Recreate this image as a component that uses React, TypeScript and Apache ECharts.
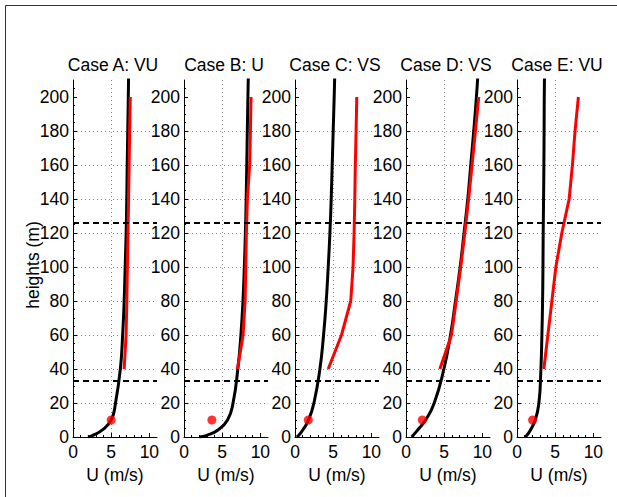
import React, { useEffect, useRef } from "react";
import * as echarts from "echarts";

// ---- data ----
const CASE_TITLES = ["Case A: VU", "Case B: U", "Case C: VS", "Case D: VS", "Case E: VU"];
const X_TICKS = [0, 5, 10];
const Y_TICKS = [0, 20, 40, 60, 80, 100, 120, 140, 160, 180, 200];

// heights (m) at which the black profile was read
const BLACK_HEIGHTS = [0, 1, 4, 10, 20, 40, 60, 80, 100, 120, 140, 160, 180, 200, 212];
const BLACK_A = [1.96, 2.6, 3.8, 5.0, 5.57, 6.2, 6.5, 6.7, 6.83, 6.96, 7.04, 7.1, 7.17, 7.24, 7.28];
const BLACK_B = [2.0, 3.0, 4.4, 5.7, 6.42, 7.05, 7.45, 7.72, 7.9, 8.04, 8.14, 8.22, 8.29, 8.37, 8.42];
const BLACK_C = [0.22, 0.5, 1.0, 1.78, 2.48, 3.26, 3.74, 4.09, 4.35, 4.57, 4.74, 4.87, 5.0, 5.13, 5.2];
const BLACK_D = [0.74, 0.95, 1.5, 2.57, 3.7, 4.96, 5.83, 6.48, 7.09, 7.6, 8.09, 8.48, 8.87, 9.22, 9.4];
const BLACK_E = [1.0, 1.3, 1.75, 2.39, 2.87, 3.13, 3.26, 3.35, 3.4, 3.43, 3.48, 3.52, 3.55, 3.57, 3.6];

// heights (m) of the red (measured) profile
const RED_HEIGHTS = [40, 60, 80, 100, 120, 140, 160, 180, 200];
const RED_A = [6.7, 6.95, 7.05, 7.12, 7.2, 7.28, 7.35, 7.42, 7.5];
const RED_B = [7.0, 7.74, 8.0, 8.09, 8.17, 8.3, 8.6, 8.7, 8.78];
const RED_C = [4.35, 6.09, 7.3, 7.6, 7.74, 7.83, 7.9, 8.0, 8.09];
const RED_D = [4.43, 5.96, 6.57, 7.17, 7.7, 8.2, 8.65, 9.09, 9.52];
const RED_E = [3.52, 4.04, 4.57, 5.09, 5.87, 6.83, 7.26, 7.6, 8.04];

// red point at 10 m
const DOT_HEIGHT = 10;
const DOT_U = [5.0, 3.65, 1.74, 2.13, 2.04];

// dashed reference heights
const DASHED_HEIGHTS = [33, 126];

const BLACK = [BLACK_A, BLACK_B, BLACK_C, BLACK_D, BLACK_E];
const RED = [RED_A, RED_B, RED_C, RED_D, RED_E];

// ---- layout ----
const GRID_LEFTS = [73, 184, 295, 406, 517];
const GRID_W = 84;
const GRID_TOP = 80;
const GRID_H = 357;
const FONT = "'Liberation Sans', Arial, Helvetica, sans-serif";
const FS = 17.5;

export default function App() {
  const ref = useRef<HTMLDivElement>(null);
  useEffect(() => {
    const chart = echarts.init(ref.current!, null, { renderer: "svg" });
    const grids: any[] = [];
    const xAxes: any[] = [];
    const yAxes: any[] = [];
    const series: any[] = [];
    const graphics: any[] = [];

    CASE_TITLES.forEach((title, i) => {
      grids.push({ left: GRID_LEFTS[i], top: GRID_TOP, width: GRID_W, height: GRID_H, containLabel: false });
      xAxes.push({
        type: "value",
        gridIndex: i,
        min: 0,
        max: 11,
        interval: 5,
        name: "U (m/s)",
        nameLocation: "middle",
        nameGap: 23,
        nameTextStyle: { color: "#000", fontSize: FS, fontFamily: FONT },
        axisLine: { show: true, onZero: false, lineStyle: { color: "#000", width: 1 } },
        axisTick: { show: true, inside: true, length: 4, customValues: X_TICKS, lineStyle: { color: "#000" } },
        minorTick: { show: true, splitNumber: 5, length: 2, lineStyle: { color: "#000" } },
        axisLabel: {
          customValues: X_TICKS,
          color: "#000",
          fontSize: FS,
          fontFamily: FONT,
          margin: 6,
          formatter: (v: number) => (X_TICKS.indexOf(v) >= 0 ? String(v) : ""),
        },
        splitLine: {
          show: true,
          showMinLine: false,
          showMaxLine: false,
          lineStyle: { color: "#888", width: 1, type: [1, 3] },
        },
      });
      yAxes.push({
        type: "value",
        gridIndex: i,
        min: 0,
        max: 210,
        interval: 20,
        axisLine: { show: true, onZero: false, lineStyle: { color: "#000", width: 1 } },
        axisTick: { show: true, inside: true, length: 4, customValues: Y_TICKS, lineStyle: { color: "#000" } },
        minorTick: { show: true, splitNumber: 4, length: 2, lineStyle: { color: "#000" } },
        axisLabel: {
          customValues: Y_TICKS,
          color: "#000",
          fontSize: FS,
          fontFamily: FONT,
          margin: 4,
          formatter: (v: number) => (Y_TICKS.indexOf(v) >= 0 ? String(v) : ""),
        },
        splitLine: {
          show: true,
          showMinLine: false,
          showMaxLine: false,
          lineStyle: { color: "#888", width: 1, type: [1, 3] },
        },
      });

      series.push({
        type: "line",
        xAxisIndex: i,
        yAxisIndex: i,
        data: BLACK_HEIGHTS.map((h, k) => [BLACK[i][k], h]),
        smooth: 0.5,
        showSymbol: false,
        symbol: "none",
        lineStyle: { color: "#000", width: 3 },
        clip: true,
        z: 2,
        markLine: {
          silent: true,
          symbol: "none",
          label: { show: false },
          lineStyle: { color: "#000", width: 2, type: [6, 4] },
          data: DASHED_HEIGHTS.map((h) => ({ yAxis: h })),
        },
      });
      series.push({
        type: "line",
        xAxisIndex: i,
        yAxisIndex: i,
        data: RED_HEIGHTS.map((h, k) => [RED[i][k], h]),
        showSymbol: false,
        symbol: "none",
        lineStyle: { color: "#ff0000", width: 3 },
        z: 3,
      });
      series.push({
        type: "scatter",
        xAxisIndex: i,
        yAxisIndex: i,
        data: [[DOT_U[i], DOT_HEIGHT]],
        symbol: "circle",
        symbolSize: 9,
        itemStyle: { color: "#ff0000" },
        z: 4,
      });

      graphics.push({
        type: "text",
        x: GRID_LEFTS[i] + GRID_W / 2 - 2,
        y: 65,
        style: {
          text: title,
          fill: "#000",
          font: `${FS}px ${FONT}`,
          textAlign: "center",
          textVerticalAlign: "middle",
        },
      });
    });

    graphics.push({
      type: "text",
      x: 33,
      y: 265,
      rotation: Math.PI / 2,
      style: {
        text: "heights (m)",
        fill: "#000",
        font: `${FS}px ${FONT}`,
        textAlign: "center",
        textVerticalAlign: "middle",
      },
    });
    graphics.push({
      type: "rect",
      shape: { x: 5.5, y: 5.5, width: 800, height: 800 },
      style: { fill: "none", stroke: "#333", lineWidth: 1 },
      silent: true,
    });

    chart.setOption({
      animation: false,
      backgroundColor: "#fff",
      grid: grids,
      xAxis: xAxes,
      yAxis: yAxes,
      series,
      graphic: graphics,
    });
    return () => chart.dispose();
  }, []);
  return (
    <div
      ref={ref}
      style={{ position: "absolute", left: 0, top: 0, width: 617, height: 497, background: "#fff" }}
    />
  );
}
